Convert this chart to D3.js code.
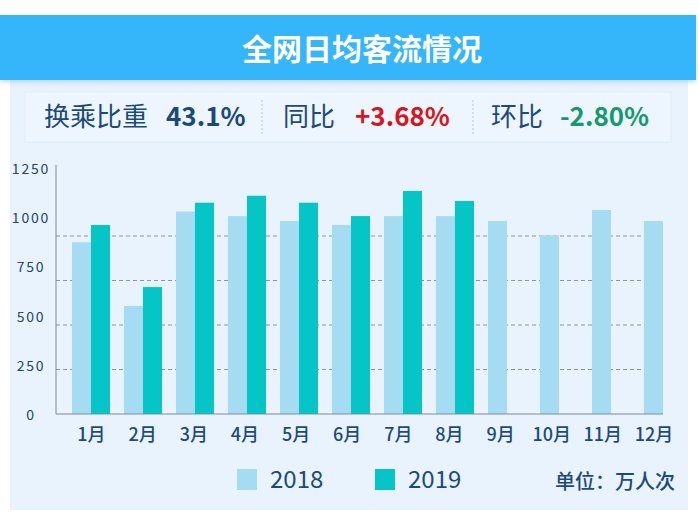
<!DOCTYPE html>
<html>
<head>
<meta charset="utf-8">
<script src="https://cdn.jsdelivr.net/npm/d3@7"></script>
<style>
  html, body { margin: 0; padding: 0; background: #ffffff; }
  svg { display: block; }
  text { font-family: "Noto Sans CJK SC", "Noto Sans", sans-serif; }
</style>
</head>
<body>
<svg id="chart" width="698" height="523"></svg>
<script>
// ---- data ----
const title = "全网日均客流情况";
const months = ["1月","2月","3月","4月","5月","6月","7月","8月","9月","10月","11月","12月"];
const seriesNames = ["2018", "2019"];
const values2018 = [965, 607, 1137, 1112, 1084, 1062, 1112, 1112, 1084, 1004, 1146, 1084];
const values2019 = [1062, 713, 1187, 1226, 1187, 1112, 1253, 1197];
const yTickLabels = [0, 250, 500, 750, 1000, 1250];
const gridValues = [250, 500, 750, 1000];
const statLabels = ["换乘比重", "同比", "环比"];
const statValues = ["43.1%", "+3.68%", "-2.80%"];
const unitText = "单位：万人次";

// ---- styles ----
const colors = { "2018": "#a6dcf1", "2019": "#06c5c6" };
const navy = "#1d4a78";
const statColors = ["#1b4a7a", "#d5161e", "#16996a"];

const svg = d3.select("#chart");

// shadow filter
const defs = svg.append("defs");
const f = defs.append("filter").attr("id", "sh").attr("x", "-5%").attr("y", "-30%").attr("width", "110%").attr("height", "170%");
f.append("feDropShadow").attr("dx", 0).attr("dy", 2).attr("stdDeviation", 2.5).attr("flood-color", "#6a8fb0").attr("flood-opacity", 0.35);

// panel
svg.append("rect").attr("x", 10).attr("y", 78).attr("width", 678).attr("height", 432)
  .attr("fill", "#e8f3fd");

// header
svg.append("rect").attr("x", 0).attr("y", 15).attr("width", 696).attr("height", 65)
  .attr("fill", "#35b5fa").attr("filter", "url(#sh)");
svg.append("text").attr("x", 362).attr("y", 60).attr("text-anchor", "middle")
  .attr("fill", "#ffffff").attr("font-size", 30).attr("font-weight", "bold")
  .text(title);

// stats row
svg.append("rect").attr("x", 25).attr("y", 92).attr("width", 646).attr("height", 50)
  .attr("fill", "#edf6fe").attr("stroke", "#e0edf9").attr("stroke-width", 1);
const statLabelX = [44, 283, 491];
const statValueX = [166, 355, 560];
const dividerX = [262, 473];
statLabels.forEach((s, i) => {
  svg.append("text").attr("x", statLabelX[i]).attr("y", 126)
    .attr("fill", navy).attr("font-size", 26).text(s);
  svg.append("text").attr("x", statValueX[i]).attr("y", 126)
    .attr("fill", statColors[i]).attr("font-size", 26).attr("font-weight", "bold").text(statValues[i]);
});
dividerX.forEach(x => {
  svg.append("line").attr("x1", x).attr("x2", x).attr("y1", 100).attr("y2", 135)
    .attr("stroke", "#b8c5d2").attr("stroke-width", 1).attr("stroke-dasharray", "2,2");
});

// ---- scales ----
const x0 = d3.scaleBand().domain(months).range([56, 698]).paddingInner(0.269).paddingOuter(0.3077);
const x1 = d3.scaleBand().domain(seriesNames).range([0, x0.bandwidth()]);
const y = d3.scaleLinear().domain([0, 1250]).range([414, 191.5]);
const yLabel = d3.scaleLinear().domain([0, 1250]).range([415, 169]);
const xLabel = d3.scalePoint().domain(months).range([91.5, 654]);

const axisEnd = x0(months[months.length - 1]) + x1("2018") + x1.bandwidth();

// gridlines
svg.append("g").selectAll("line").data(gridValues).join("line")
  .attr("x1", 56).attr("x2", axisEnd)
  .attr("y1", d => y(d)).attr("y2", d => y(d))
  .attr("stroke", "#8b97a4").attr("stroke-width", 1).attr("stroke-dasharray", "4,3");

// bars
const rows = months.map((m, i) => ({
  month: m,
  vals: [
    { key: "2018", v: values2018[i] },
    { key: "2019", v: values2019[i] }
  ].filter(d => d.v !== undefined)
}));
svg.append("g").selectAll("g").data(rows).join("g")
  .attr("transform", d => `translate(${x0(d.month)},0)`)
  .selectAll("rect").data(d => d.vals).join("rect")
  .attr("x", d => x1(d.key))
  .attr("width", x1.bandwidth())
  .attr("y", d => y(d.v))
  .attr("height", d => y(0) - y(d.v))
  .attr("fill", d => colors[d.key]);

// axes lines
svg.append("line").attr("x1", 56).attr("x2", 56).attr("y1", 165).attr("y2", y(0))
  .attr("stroke", "#7f8d9b").attr("stroke-width", 1);
svg.append("line").attr("x1", 56).attr("x2", axisEnd).attr("y1", y(0)).attr("y2", y(0))
  .attr("stroke", "#7f8d9b").attr("stroke-width", 1);

// y tick labels
svg.append("g").selectAll("text").data(yTickLabels).join("text")
  .attr("x", 31).attr("y", d => yLabel(d))
  .attr("dy", "0.35em").attr("text-anchor", "middle")
  .attr("font-size", 14).attr("letter-spacing", 1.8).attr("font-weight", 400)
  .attr("fill", "#24466a")
  .text(d => d);

// x labels
svg.append("g").selectAll("text").data(months).join("text")
  .attr("x", d => xLabel(d)).attr("y", 435)
  .attr("dy", "0.35em").attr("text-anchor", "middle")
  .attr("font-size", 18).attr("font-weight", 500)
  .attr("fill", navy)
  .text(d => d);

// legend
const lg = svg.append("g").selectAll("g").data(seriesNames).join("g")
  .attr("transform", (d, i) => `translate(${237 + i * 138},469)`);
lg.append("rect").attr("width", 20).attr("height", 21).attr("fill", d => colors[d]);
lg.append("text").attr("x", 33).attr("y", 11).attr("dy", "0.35em")
  .attr("font-size", 24).attr("fill", navy).text(d => d);

svg.append("text").attr("x", 675).attr("y", 482).attr("dy", "0.35em")
  .attr("text-anchor", "end").attr("font-size", 20).attr("font-weight", 500)
  .attr("fill", navy).text(unitText);
</script>
</body>
</html>
